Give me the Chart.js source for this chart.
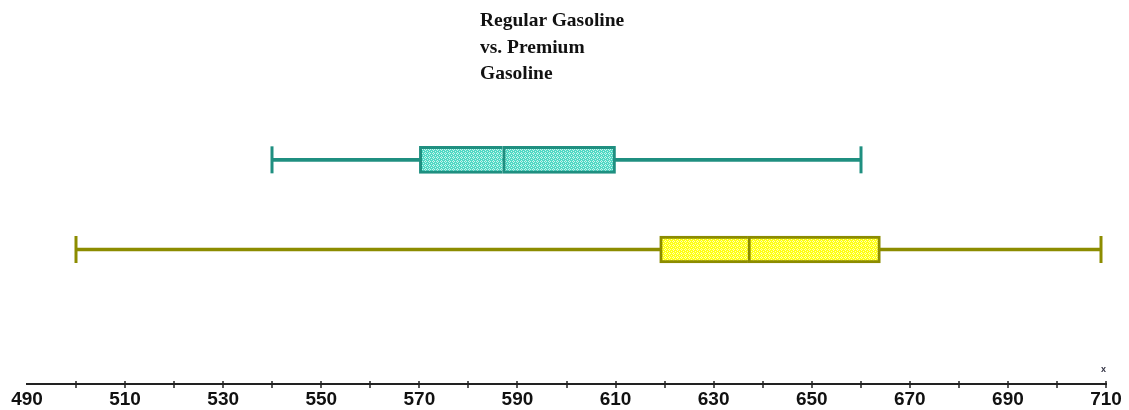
<!DOCTYPE html>
<html>
<head>
<meta charset="utf-8">
<script src="https://cdn.jsdelivr.net/npm/chart.js@4"></script>
<style>
    body { margin: 0; background: #fff; }
    #wrap { position: relative; width: 1129px; height: 410px; }
    #title {
        position: absolute; left: 480px; top: 7px;
        font-family: "Liberation Serif", "Times New Roman", serif;
        font-weight: bold; font-size: 19.5px; line-height: 26.5px; color: #111;
    }
    #axisName {
        position: absolute; left: 1101px; top: 364px;
        font-family: "Liberation Sans", Arial, sans-serif;
        font-weight: bold; font-size: 9px; color: #334;
    }
</style>
</head>
<body>
<div id="wrap">
    <canvas id="chart" width="1129" height="410"></canvas>
    <div id="title">Regular Gasoline<br>vs. Premium<br>Gasoline</div>
    <div id="axisName">x</div>
</div>
<script>
// Box plot values (top box first)
const categories = ["Regular Gasoline", "Premium Gasoline", ""];
const mins = [540, 500];
const q1s = [570, 619];
const medians = [587, 637];
const q3s = [610, 664];
const maxs = [660, 709];

// Axis labels shown under the line
const tickLabels = [490, 510, 530, 550, 570, 590, 610, 630, 650, 670, 690, 710];

// Colours per box
const strokeColours = ["#1f8f80", "#8c8c00"];

// Little speckled fill like the original
function makePattern(base, dot) {
    const c = document.createElement("canvas");
    c.width = 4;
    c.height = 4;
    const g = c.getContext("2d");
    g.fillStyle = base;
    g.fillRect(0, 0, 4, 4);
    g.fillStyle = dot;
    g.fillRect(1, 0, 1, 1);
    g.fillRect(0, 1, 1, 1);
    g.fillRect(2, 1, 1, 1);
    g.fillRect(1, 2, 1, 1);
    g.fillRect(3, 3, 1, 1);
    return g.createPattern(c, "repeat");
}
const ctx = document.getElementById("chart").getContext("2d");
const fills = [makePattern("#4fd8c4", "#c8f4ec"), makePattern("#ffff10", "#ffffb0")];

// Whisker ranges and the two halves of each box
const whiskerData = mins.map((m, i) => [m, maxs[i]]);
const lowerData = q1s.map((q, i) => [q, medians[i]]);
const upperData = medians.map((m, i) => [m, q3s[i]]);

// Draws the end caps and the small cross ticks on the axis
const extras = {
    id: "extras",
    afterDatasetsDraw(chart) {
        const x = chart.scales.x;
        const y = chart.scales.y;
        const c = chart.ctx;
        c.save();
        c.lineWidth = 3;
        for (let i = 0; i < mins.length; i++) {
            const cy = y.getPixelForValue(i);
            c.strokeStyle = strokeColours[i];
            [mins[i], maxs[i]].forEach(v => {
                const px = Math.round(x.getPixelForValue(v));
                c.beginPath();
                c.moveTo(px, cy - 13.5);
                c.lineTo(px, cy + 13.5);
                c.stroke();
            });
        }
        c.strokeStyle = "#222";
        c.lineWidth = 1.5;
        x.ticks.forEach(t => {
            if (t.value <= 490) return;
            const px = Math.round(x.getPixelForValue(t.value));
            c.beginPath();
            c.moveTo(px, x.top - 3);
            c.lineTo(px, x.top + 4);
            c.stroke();
        });
        c.restore();
    }
};

const chart = new Chart(ctx, {
    type: "bar",
    data: {
        labels: categories,
        datasets: [{
            data: whiskerData,
            backgroundColor: strokeColours,
            borderWidth: 0,
            barThickness: 3,
            grouped: false,
            order: 2
        }, {
            data: lowerData,
            backgroundColor: fills,
            borderColor: strokeColours,
            borderWidth: 3,
            borderSkipped: "right", // the upper half draws the median line
            barThickness: 27,
            grouped: false,
            order: 1
        }, {
            data: upperData,
            backgroundColor: fills,
            borderColor: strokeColours,
            borderWidth: 3,
            borderSkipped: false,
            barThickness: 27,
            grouped: false,
            order: 0
        }]
    },
    options: {
        indexAxis: "y",
        responsive: false,
        animation: false,
        devicePixelRatio: 1,
        layout: { padding: { left: 27, right: 23, top: 115, bottom: 0 } },
        plugins: {
            legend: { display: false },
            tooltip: { enabled: false },
            title: { display: false }
        },
        scales: {
            x: {
                type: "linear",
                min: 490,
                max: 710,
                grid: { display: false, drawTicks: false },
                border: { display: true, width: 2, color: "#222" },
                ticks: {
                    stepSize: 10,
                    autoSkip: false,
                    maxRotation: 0,
                    padding: 4,
                    color: "#111",
                    font: { family: "'Liberation Sans', Arial, sans-serif", size: 19, weight: "bold" },
                    callback: v => tickLabels.includes(v) ? String(v) : ""
                },
                afterFit: scale => { scale.height = 26; }
            },
            y: {
                display: false,
                offset: true
            }
        }
    },
    plugins: [extras]
});
</script>
</body>
</html>
